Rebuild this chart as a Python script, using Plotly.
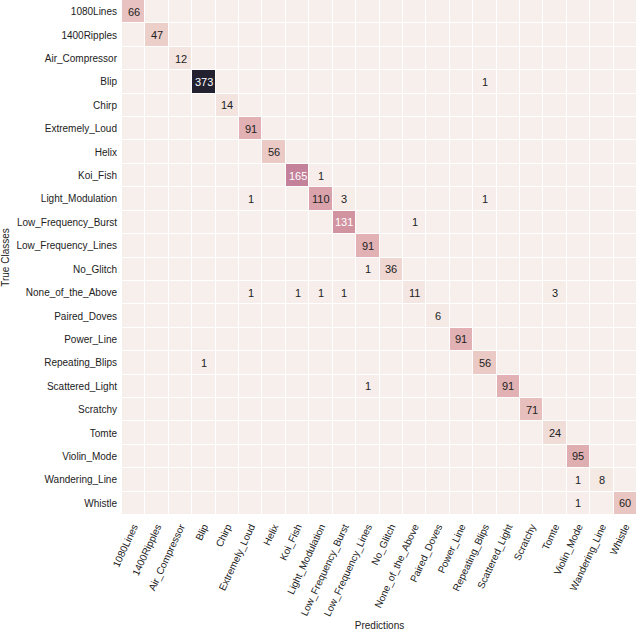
import plotly.graph_objects as go

classes = ["1080Lines", "1400Ripples", "Air_Compressor", "Blip", "Chirp",
           "Extremely_Loud", "Helix", "Koi_Fish", "Light_Modulation",
           "Low_Frequency_Burst", "Low_Frequency_Lines", "No_Glitch",
           "None_of_the_Above", "Paired_Doves", "Power_Line", "Repeating_Blips",
           "Scattered_Light", "Scratchy", "Tomte", "Violin_Mode",
           "Wandering_Line", "Whistle"]

# nonzero entries: (true class index, predicted class index, count)
diagonal_counts = [66, 47, 12, 373, 14, 91, 56, 165, 110, 131, 91, 36, 11, 6,
                   91, 56, 91, 71, 24, 95, 8, 60]
off_diagonal = [
    (3, 15, 1),
    (7, 8, 1),
    (8, 5, 1), (8, 9, 3), (8, 15, 1),
    (9, 12, 1),
    (11, 10, 1),
    (12, 5, 1), (12, 7, 1), (12, 8, 1), (12, 9, 1), (12, 18, 3),
    (15, 3, 1),
    (16, 10, 1),
    (20, 19, 1),
    (21, 19, 1),
]

n = len(classes)
z = [[0] * n for _ in range(n)]
for i, v in enumerate(diagonal_counts):
    z[i][i] = v
for i, j, v in off_diagonal:
    z[i][j] = v

colorscale = [
    [0.0, "#f7efec"],
    [0.04, "#f3e3de"],
    [0.15, "#ebc9c5"],
    [0.25, "#e0afb2"],
    [0.30, "#d9a2aa"],
    [0.36, "#d1919f"],
    [0.45, "#c2809a"],
    [0.60, "#9a6389"],
    [0.78, "#5f416c"],
    [1.0, "#23202f"],
]

fig = go.Figure(go.Heatmap(
    z=z, x=classes, y=classes,
    colorscale=colorscale, zmin=0, zmax=373,
    showscale=False, xgap=1, ygap=1, hoverongaps=False,
))

annotations = []
for i in range(n):
    for j in range(n):
        v = z[i][j]
        if v == 0:
            continue
        annotations.append(dict(
            x=classes[j], y=classes[i], text=str(v), showarrow=False,
            font=dict(size=11, color="white" if v > 120 else "#222222",
                      family="Liberation Sans, Arial, sans-serif"),
        ))

fig.update_layout(
    width=640, height=633,
    margin=dict(l=122, r=3, t=0, b=118),
    paper_bgcolor="white", plot_bgcolor="white",
    font=dict(family="Liberation Sans, Arial, sans-serif", size=10, color="#222222"),
    annotations=annotations,
    xaxis=dict(title=dict(text="Predictions", font=dict(size=10), standoff=4),
               tickangle=-65, showgrid=False, zeroline=False, ticks="",
               tickfont=dict(size=10), ticklabelstandoff=3),
    yaxis=dict(title=dict(text="True Classes", font=dict(size=10), standoff=4),
               autorange="reversed", showgrid=False, zeroline=False, ticks="",
               tickfont=dict(size=10), ticklabelstandoff=4),
)

fig.write_html("out.html", config={"displayModeBar": False},
               post_script="document.body.style.margin='0';document.body.style.overflow='hidden';")
